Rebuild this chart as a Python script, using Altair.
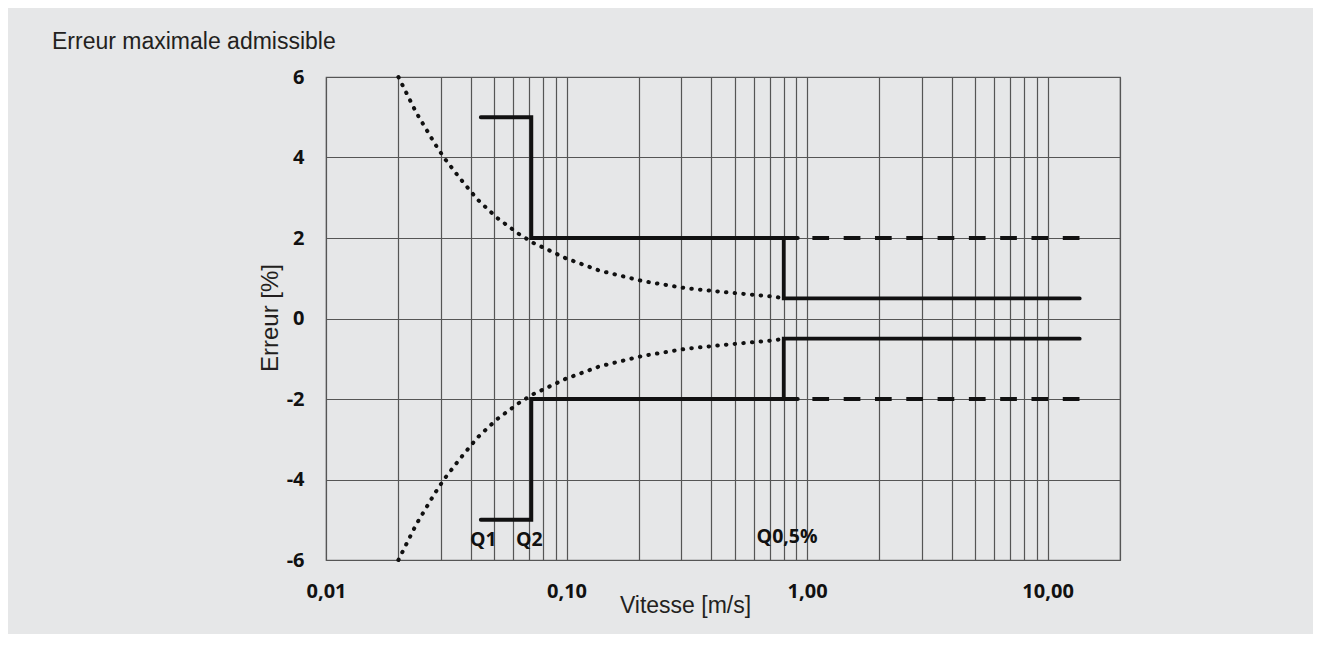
import altair as alt
import pandas as pd

# ---- data ----
# dotted envelope curve (upper branch; lower branch is its mirror)
curve_v = [0.020, 0.0237, 0.0283, 0.031, 0.0362, 0.0426, 0.0512, 0.063, 0.0726,
           0.0789, 0.099, 0.137, 0.207, 0.315, 0.482, 0.736, 0.80]
curve_e = [6.0, 5.12, 4.35, 3.99, 3.47, 2.96, 2.51, 2.11, 1.88,
           1.78, 1.50, 1.19, 0.93, 0.75, 0.64, 0.54, 0.50]

# step limits
q1 = 0.044
q2 = 0.0714
q05 = 0.80
solid_end = 0.915
line_end = 13.6
level_low_flow = 5
level_mid = 2
level_high = 0.5

label_texts = ["Q1", "Q2", "Q0,5%"]
label_v = [0.0451, 0.0701, 0.826]
label_e = [-5.50, -5.50, -5.42]

x_ticks = [0.01, 0.02, 0.03, 0.04, 0.05, 0.06, 0.07, 0.08, 0.09,
           0.1, 0.2, 0.3, 0.4, 0.5, 0.6, 0.7, 0.8, 0.9,
           1, 2, 3, 4, 5, 6, 7, 8, 9, 10, 20]
y_ticks = [-6, -4, -2, 0, 2, 4, 6]

title_text = "Erreur maximale admissible"

# ---- tables ----
rows = []
for sign, name in [(1, "up"), (-1, "down")]:
    for i, (v, e) in enumerate(zip(curve_v, curve_e)):
        rows.append({"v": v, "e": sign * e, "seg": name, "ord": i})
curve_df = pd.DataFrame(rows)

solid_rows = []
def add_seg(name, pts):
    for i, (v, e) in enumerate(pts):
        solid_rows.append({"v": v, "e": e, "seg": name, "ord": i})
for sign, name in [(1, "u"), (-1, "l")]:
    add_seg(name + "1", [(q1, sign * level_low_flow), (q2, sign * level_low_flow),
                         (q2, sign * level_mid), (solid_end, sign * level_mid)])
    add_seg(name + "2", [(q05, sign * level_mid), (q05, sign * level_high),
                         (line_end, sign * level_high)])
solid_df = pd.DataFrame(solid_rows)

dash_rows = []
for sign, name in [(1, "du"), (-1, "dl")]:
    dash_rows.append({"v": solid_end, "e": sign * level_mid, "seg": name, "ord": 0})
    dash_rows.append({"v": line_end, "e": sign * level_mid, "seg": name, "ord": 1})
dash_df = pd.DataFrame(dash_rows)

label_df = pd.DataFrame({"v": label_v, "e": label_e, "t": label_texts})
title_df = pd.DataFrame({"t": [title_text]})

# ---- encodings ----
label_expr_x = ("abs(log(datum.value)/LN10 - round(log(datum.value)/LN10)) < 0.001 ? "
                "replace(format(datum.value, '.2f'), '.', ',') : ''")

LABEL_FONT = "Open Sans"
GRID = "#555555"

X = alt.X("v:Q",
          scale=alt.Scale(type="log", domain=[0.01, 20], nice=False),
          axis=alt.Axis(values=x_ticks, grid=True, ticks=False, tickSize=0, domain=False,
                        labelExpr=label_expr_x, labelFont=LABEL_FONT, labelFontWeight="bold",
                        labelFontSize=20, labelColor="#111111", labelPadding=21,
                        labelFlush=False, labelOverlap=False,
                        gridColor=GRID, gridWidth=1.2, gridOpacity=1,
                        title="Vitesse [m/s]", titleFont="Liberation Sans",
                        titleFontSize=23, titleFontWeight="normal", titleColor="#231f20",
                        titleX=359, titleY=52, titleAlign="center",
                        titleBaseline="alphabetic"))
Y = alt.Y("e:Q",
          scale=alt.Scale(domain=[-6, 6], nice=False, zero=False),
          axis=alt.Axis(values=y_ticks, grid=True, ticks=False, tickSize=0, domain=False,
                        labelExpr="'' + datum.value", labelFont=LABEL_FONT,
                        labelFontWeight="bold", labelFontSize=20, labelColor="#111111",
                        labelPadding=22, labelFlush=False, labelOverlap=False,
                        gridColor=GRID, gridWidth=1.2, gridOpacity=1,
                        title="Erreur [%]", titleFont="Liberation Sans",
                        titleFontSize=24, titleFontWeight="normal", titleColor="#231f20",
                        titleX=-49, titleY=240.5, titleAngle=270, titleAlign="center",
                        titleBaseline="alphabetic"))

dotted = alt.Chart(curve_df).mark_line(
    color="#111111", strokeWidth=4, strokeCap="round", strokeDash=[0.5, 8.2]
).encode(x=X, y=Y, detail="seg:N", order="ord:Q")

solid = alt.Chart(solid_df).mark_line(
    color="#111111", strokeWidth=3.8, strokeCap="round", strokeJoin="miter"
).encode(x=X, y=Y, detail="seg:N", order="ord:Q")

dashed = alt.Chart(dash_df).mark_line(
    color="#111111", strokeWidth=4.2, strokeCap="butt", strokeDash=[16.7, 14.6],
    strokeDashOffset=16.7
).encode(x=X, y=Y, detail="seg:N", order="ord:Q")

labels = alt.Chart(label_df).mark_text(
    font=LABEL_FONT, fontWeight="bold", fontSize=19.5, align="center", baseline="middle",
    color="#111111"
).encode(x=X, y=Y, text="t:N")

title = alt.Chart(title_df).mark_text(
    font="Liberation Sans", fontSize=23, align="left", baseline="alphabetic",
    color="#231f20"
).encode(x=alt.value(-274), y=alt.value(-28.3), text="t:N")

chart = alt.layer(dotted, dashed, solid, labels, title).properties(
    width=794, height=483,
    autosize=alt.AutoSizeParams(type="none"),
    padding={"left": 318, "top": 69, "right": 193, "bottom": 74},
    background="#e6e7e8",
).configure_view(stroke="#666666", strokeWidth=1.2)

chart.save("out.html", embed_options={"renderer": "svg", "actions": False})
